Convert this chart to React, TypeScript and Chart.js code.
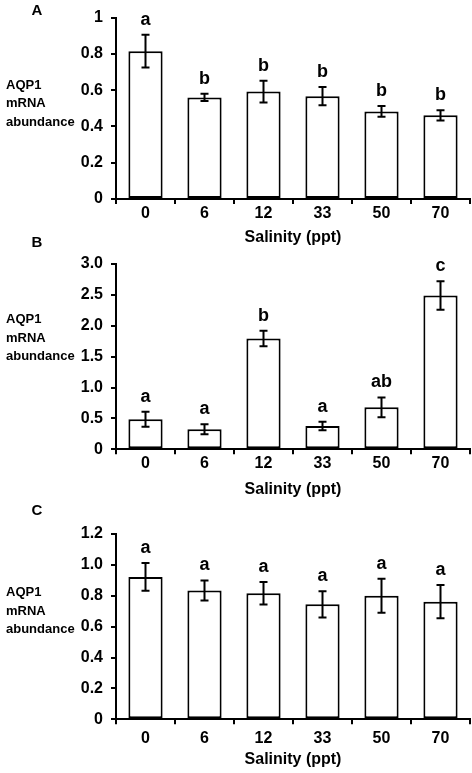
import React, { useEffect, useRef } from "react";
import { Chart, registerables } from "chart.js";

Chart.register(...registerables);

const categories = ["0", "6", "12", "33", "50", "70"];

const valuesA = [0.815, 0.56, 0.592, 0.567, 0.483, 0.461];
const errorsA = [0.09, 0.02, 0.06, 0.05, 0.03, 0.028];
const lettersA = ["a", "b", "b", "b", "b", "b"];
const yTicksA = ["0", "0.2", "0.4", "0.6", "0.8", "1"];

const valuesB = [0.487, 0.325, 1.795, 0.378, 0.68, 2.49];
const errorsB = [0.12, 0.08, 0.125, 0.07, 0.16, 0.23];
const lettersB = ["a", "a", "b", "a", "ab", "c"];
const yTicksB = ["0", "0.5", "1.0", "1.5", "2.0", "2.5", "3.0"];

const valuesC = [0.922, 0.834, 0.816, 0.745, 0.8, 0.762];
const errorsC = [0.09, 0.065, 0.073, 0.085, 0.11, 0.108];
const lettersC = ["a", "a", "a", "a", "a", "a"];
const yTicksC = ["0", "0.2", "0.4", "0.6", "0.8", "1.0", "1.2"];

const panelLabels = ["A", "B", "C"];
const yTitleLines = ["AQP1", "mRNA", "abundance"];
const xTitle = "Salinity (ppt)";

const FONT = "'Liberation Sans', Arial, Helvetica, sans-serif";

type Panel = {
  label: string;
  values: number[];
  errors: number[];
  letters: string[];
  yTicks: string[];
  max: number;
  step: number;
  layout: {
    top: number;
    height: number;
    plotTop: number;
    plotBottom: number;
    letterY: number;
    yTitleMid: number;
    xTitleY: number;
    tickPad: number;
  };
};

const panels: Panel[] = [
  {
    label: panelLabels[0],
    values: valuesA,
    errors: errorsA,
    letters: lettersA,
    yTicks: yTicksA,
    max: 1,
    step: 0.2,
    layout: { top: 0, height: 252, plotTop: 13, plotBottom: 199, letterY: 11, yTitleMid: 103.5, xTitleY: 238, tickPad: 0 },
  },
  {
    label: panelLabels[1],
    values: valuesB,
    errors: errorsB,
    letters: lettersB,
    yTicks: yTicksB,
    max: 3,
    step: 0.5,
    layout: { top: 230, height: 272, plotTop: 264, plotBottom: 449.3, letterY: 243, yTitleMid: 338, xTitleY: 490, tickPad: 0 },
  },
  {
    label: panelLabels[2],
    values: valuesC,
    errors: errorsC,
    letters: lettersC,
    yTicks: yTicksC,
    max: 1.2,
    step: 0.2,
    layout: { top: 498, height: 275, plotTop: 534, plotBottom: 719.3, letterY: 511, yTitleMid: 611, xTitleY: 760, tickPad: 5 },
  },
];

const X_AXIS_H = 30;

function PanelChart({ panel }: { panel: Panel }) {
  const ref = useRef<HTMLCanvasElement | null>(null);
  useEffect(() => {
    const canvas = ref.current;
    if (!canvas) return;
    const L = panel.layout;
    const padTop = L.plotTop - L.top;
    const plotBottomLocal = L.plotBottom - L.top;
    const padBottom = L.height - plotBottomLocal - X_AXIS_H;

    const annot = {
      id: "annot",
      afterDraw(chart: any) {
        const ctx = chart.ctx;
        const ys = chart.scales.y;
        const meta = chart.getDatasetMeta(0);
        ctx.save();
        ctx.strokeStyle = "#000";
        ctx.lineWidth = 2;
        panel.values.forEach((v, i) => {
          const x = meta.data[i].x;
          const yt = ys.getPixelForValue(v + panel.errors[i]);
          const yb = ys.getPixelForValue(v - panel.errors[i]);
          ctx.beginPath();
          ctx.moveTo(x, yt);
          ctx.lineTo(x, yb);
          ctx.moveTo(x - 4, yt);
          ctx.lineTo(x + 4, yt);
          ctx.moveTo(x - 4, yb);
          ctx.lineTo(x + 4, yb);
          ctx.stroke();
          ctx.fillStyle = "#000";
          ctx.font = `bold 18px ${FONT}`;
          ctx.textAlign = "center";
          ctx.textBaseline = "alphabetic";
          ctx.fillText(panel.letters[i], x, yt - 10);
        });
        ctx.fillStyle = "#000";
        ctx.font = `bold 15px ${FONT}`;
        ctx.textAlign = "center";
        ctx.textBaseline = "middle";
        ctx.fillText(panel.label, 37, L.letterY - L.top);
        ctx.font = `bold 13px ${FONT}`;
        ctx.textAlign = "left";
        yTitleLines.forEach((t, k) => {
          ctx.fillText(t, 6, L.yTitleMid - L.top + (k - 1) * 18.5);
        });
        const ca = chart.chartArea;
        ctx.font = `bold 16px ${FONT}`;
        ctx.textAlign = "center";
        ctx.fillText(xTitle, (ca.left + ca.right) / 2, L.xTitleY - L.top);
        ctx.restore();
      },
    };

    const chart = new Chart(canvas, {
      type: "bar",
      data: {
        labels: categories,
        datasets: [
          {
            data: panel.values,
            backgroundColor: "#fff",
            borderColor: "#000",
            borderWidth: 2,
            borderSkipped: false,
            categoryPercentage: 1,
            barPercentage: 0.58,
          },
        ],
      },
      options: {
        responsive: false,
        animation: false,
        devicePixelRatio: 1,
        layout: { padding: { top: padTop, bottom: padBottom, left: 0, right: 2 } },
        plugins: { legend: { display: false }, tooltip: { enabled: false } },
        scales: {
          x: {
            grid: { display: true, drawOnChartArea: false, drawTicks: true, tickLength: 5, color: "#000", lineWidth: 2, offset: true },
            border: { display: true, color: "#000", width: 2 },
            ticks: { color: "#000", font: { family: FONT, size: 16, weight: "bold" }, padding: panel.layout.tickPad, maxRotation: 0 },
            afterFit: (axis: any) => {
              axis.height = X_AXIS_H;
            },
          },
          y: {
            min: 0,
            max: panel.max,
            grid: { display: true, drawOnChartArea: false, drawTicks: true, tickLength: 5, color: "#000", lineWidth: 2 },
            border: { display: true, color: "#000", width: 2 },
            ticks: {
              stepSize: panel.step,
              color: "#000",
              padding: 8,
              font: { family: FONT, size: 16, weight: "bold" },
              callback: (_v: any, i: number) => panel.yTicks[i],
            },
            afterFit: (axis: any) => {
              axis.width = 116;
            },
          },
        },
      } as any,
      plugins: [annot],
    });
    return () => chart.destroy();
  }, [panel]);

  return (
    <canvas
      ref={ref}
      width={472}
      height={panel.layout.height}
      style={{ position: "absolute", left: 0, top: panel.layout.top, width: 472, height: panel.layout.height }}
    />
  );
}

export default function App() {
  return (
    <div style={{ position: "absolute", left: 0, top: 0, width: 472, height: 773, background: "#fff" }}>
      {panels.map((p) => (
        <PanelChart key={p.label} panel={p} />
      ))}
    </div>
  );
}
